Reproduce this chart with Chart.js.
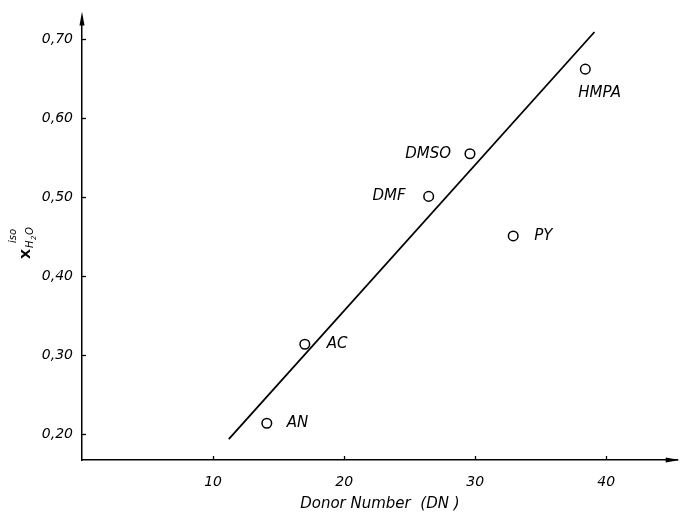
<!DOCTYPE html>
<html>
<head>
<meta charset="utf-8">
<script src="https://cdn.jsdelivr.net/npm/chart.js@4.4.0/dist/chart.umd.min.js"></script>
<style>
  html, body { margin: 0; padding: 0; background: #fff; }
  #wrap { width: 684px; height: 515px; position: relative; }
</style>
</head>
<body>
<div id="wrap"><canvas id="chart"></canvas></div>
<script>
// solvents and their measured values
const solvents = ['AN', 'AC', 'DMF', 'DMSO', 'PY', 'HMPA'];
const donorNumbers = [14.1, 17.0, 26.45, 29.6, 32.9, 38.4];
const xIso = [0.214, 0.314, 0.501, 0.555, 0.451, 0.662];

// fitted straight line (end points)
const fitDN = [11.2, 39.1];
const fitX = [0.194, 0.709];

const xTicks = [10, 20, 30, 40];
const yTicks = [0.20, 0.30, 0.40, 0.50, 0.60, 0.70];

const FONT = 'DejaVu Sans';
const INK = '#000';

// label placement per solvent: dx/dy from the point, alignment
const labelPos = {
  AN:   { dx: 20,  dy: 0,  align: 'left' },
  AC:   { dx: 22,  dy: 0,  align: 'left' },
  DMF:  { dx: -23, dy: 0,  align: 'right' },
  DMSO: { dx: -19, dy: 0,  align: 'right' },
  PY:   { dx: 21,  dy: 0,  align: 'left' },
  HMPA: { dx: -7,  dy: 24, align: 'left' }
};

const decorations = {
  id: 'decorations',
  afterDraw(chart) {
    const ctx = chart.ctx;
    const xs = chart.scales.x, ys = chart.scales.y;
    const area = chart.chartArea;
    ctx.save();
    ctx.strokeStyle = INK;
    ctx.fillStyle = INK;
    ctx.lineWidth = 1.3;

    // inward tick marks
    yTicks.forEach(v => {
      const py = Math.round(ys.getPixelForValue(v)) + 0.5;
      ctx.beginPath(); ctx.moveTo(area.left, py); ctx.lineTo(area.left + 4, py); ctx.stroke();
    });
    xTicks.forEach(v => {
      const px = Math.round(xs.getPixelForValue(v)) + 0.5;
      ctx.beginPath(); ctx.moveTo(px, area.bottom); ctx.lineTo(px, area.bottom - 4); ctx.stroke();
    });

    // arrow heads
    ctx.beginPath();
    ctx.moveTo(area.left, area.top - 6);
    ctx.lineTo(area.left - 2.5, area.top + 8);
    ctx.lineTo(area.left + 2.5, area.top + 8);
    ctx.closePath(); ctx.fill();
    ctx.beginPath();
    ctx.moveTo(area.right + 2, area.bottom);
    ctx.lineTo(area.right - 12, area.bottom - 2.5);
    ctx.lineTo(area.right - 12, area.bottom + 2.5);
    ctx.closePath(); ctx.fill();

    // point labels
    const meta = chart.getDatasetMeta(1);
    ctx.font = 'italic 15px "' + FONT + '"';
    ctx.textBaseline = 'middle';
    meta.data.forEach((pt, i) => {
      const p = labelPos[solvents[i]];
      ctx.textAlign = p.align;
      ctx.fillText(solvents[i], pt.x + p.dx, pt.y + p.dy);
    });

    // rotated y axis title: X with superscript iso and subscript H2O
    ctx.translate(30, 259);
    ctx.rotate(-Math.PI / 2);
    ctx.textAlign = 'left';
    ctx.textBaseline = 'alphabetic';
    ctx.font = 'bold 13px "' + FONT + '"';
    ctx.fillText('X', 0, 0);
    ctx.font = 'italic 10px "' + FONT + '"';
    ctx.fillText('iso', 16, -14);
    ctx.fillText('H', 11, 3);
    ctx.font = 'italic 7px "' + FONT + '"';
    ctx.fillText('2', 19, 6);
    ctx.font = 'italic 10px "' + FONT + '"';
    ctx.fillText('O', 24, 3);
    ctx.restore();
  }
};

new Chart(document.getElementById('chart'), {
  data: {
    datasets: [
      {
        type: 'line',
        data: fitDN.map((v, i) => ({ x: v, y: fitX[i] })),
        borderColor: INK,
        borderWidth: 1.8,
        pointRadius: 0,
        fill: false
      },
      {
        type: 'scatter',
        data: donorNumbers.map((v, i) => ({ x: v, y: xIso[i] })),
        pointStyle: 'circle',
        pointRadius: 4.8,
        borderColor: INK,
        borderWidth: 1.5,
        backgroundColor: '#fff'
      }
    ]
  },
  options: {
    responsive: true,
    maintainAspectRatio: false,
    animation: false,
    layout: { padding: { top: 12, right: 2, left: 0, bottom: 0 } },
    plugins: { legend: { display: false }, tooltip: { enabled: false } },
    scales: {
      x: {
        type: 'linear',
        min: 0,
        max: 45.45,
        afterBuildTicks: s => { s.ticks = xTicks.map(v => ({ value: v })); },
        afterFit: s => { s.height = 55; },
        grid: { display: true, drawOnChartArea: false, drawTicks: false },
        border: { display: true, color: INK, width: 1.5 },
        ticks: {
          color: INK,
          padding: 14,
          font: { family: FONT, size: 14, style: 'italic' },
          callback: v => String(v)
        },
        title: {
          display: true,
          text: 'Donor Number  (DN )',
          color: INK,
          padding: { top: 0, bottom: 2 },
          font: { family: FONT, size: 15, style: 'italic' }
        }
      },
      y: {
        type: 'linear',
        min: 0.1675,
        max: 0.7275,
        afterBuildTicks: s => { s.ticks = yTicks.map(v => ({ value: v })); },
        afterFit: s => { s.width = 82; },
        grid: { display: true, drawOnChartArea: false, drawTicks: false },
        border: { display: true, color: INK, width: 1.5 },
        ticks: {
          color: INK,
          padding: 9,
          font: { family: FONT, size: 14, style: 'italic' },
          callback: v => v.toFixed(2).replace('.', ',')
        }
      }
    }
  },
  plugins: [decorations]
});
</script>
</body>
</html>
